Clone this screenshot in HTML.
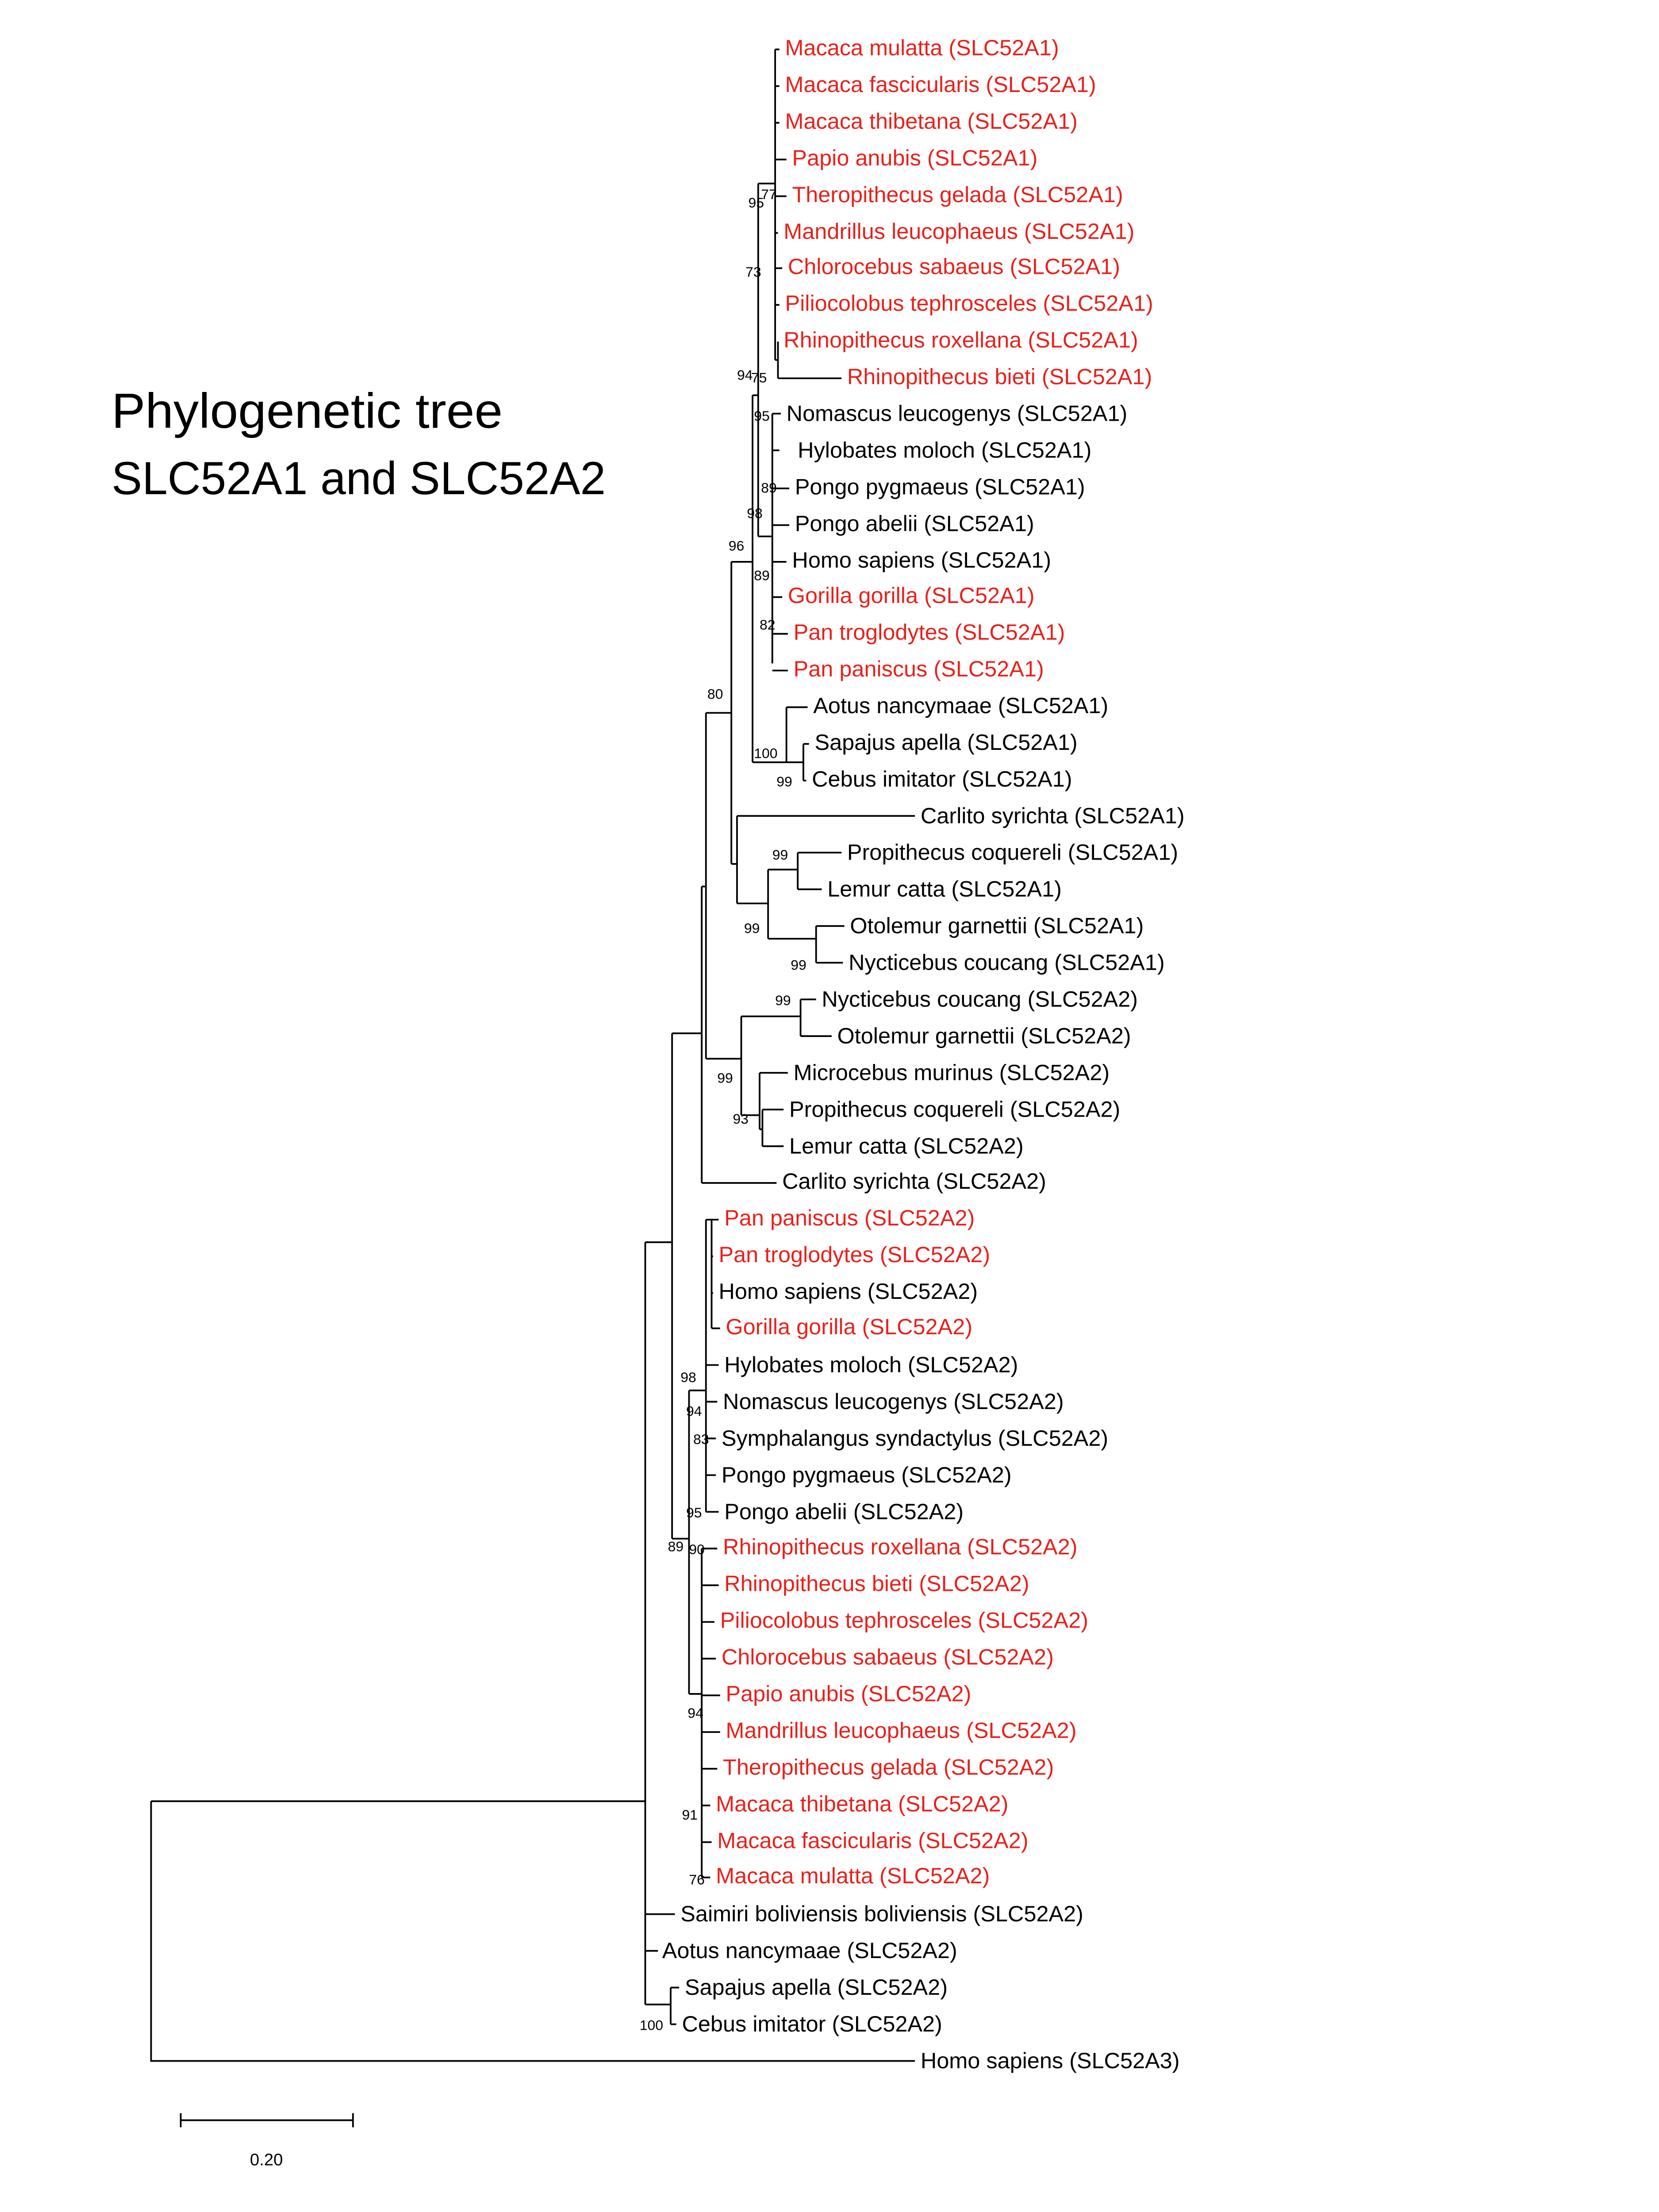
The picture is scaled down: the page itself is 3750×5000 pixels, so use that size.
<!DOCTYPE html>
<html><head><meta charset="utf-8"><style>html,body{margin:0;padding:0;background:#fff}svg{display:block}</style></head>
<body>
<svg width="3750" height="5000" viewBox="0 0 1175 1567" preserveAspectRatio="none" xmlns="http://www.w3.org/2000/svg">
<rect width="1175" height="1567" fill="#fff"/>
<g font-family="Liberation Sans, sans-serif">
<text x="79" y="303" font-size="35" fill="#000" textLength="277" lengthAdjust="spacingAndGlyphs">Phylogenetic tree</text>
<text x="79" y="350" font-size="33" fill="#000" textLength="350" lengthAdjust="spacingAndGlyphs">SLC52A1 and SLC52A2</text>
</g>
<g stroke="#000" stroke-width="1.2" fill="none">
<path d="M107 1276V1460H648M107 1276H457"/>
<path d="M457 880V1420M457 880H476M457 1382H466M457 1420H475M475 1408V1434M475 1408H481M475 1434H479M457 1356H478"/>
<path d="M476 732V1090M476 732H497"/>
<path d="M497 628V838M497 838H550M497 628H500M500 505V750M500 505H518M500 750H525"/>
<path d="M525 720V790M525 720H567M567 708V734M567 708H578M567 734H589M525 790H538M538 760V800M538 760H558M538 800H540M540 786V812M540 786H555M540 812H555"/>
<path d="M518 398V612M518 398H533M518 612H522M522 578V640M522 578H648M522 640H544M544 616V665M544 616H565M565 604V630M565 604H596M565 630H582M544 665H578M578 656V682M578 656H598M578 682H597"/>
<path d="M533 280V540M533 540H557M557 501V540M557 501H572M557 540H569M569 527V553M569 527H573M569 553H571M533 280H537M537 130V380M537 130H549M537 380H547"/>
<path d="M549 35V255M549 35H552M549 61H552M549 87H552M549 113H557M549 139H557M549 165H551M549 190H554M549 216H552M549 255H551M551 242V268M551 268H596"/>
<path d="M547 293V470M547 293H553M547 319H552M547 346H559M547 372H559M547 398H557M547 423H554M547 449H558M547 475H558"/>
<path d="M476 1090H488M488 985V1200M488 985H500M488 1200H497"/>
<path d="M500 864V1071M500 864H504M504 864V941M504 864H509M504 890H505M504 916H505M504 941H510M500 967H509M500 993H508M500 1019H507M500 1045H507M500 1071H509"/>
<path d="M497 1097V1330M497 1097H508M497 1123H509M497 1149H506M497 1175H507M497 1201H510M497 1227H510M497 1253H508M497 1279H503M497 1305H504M497 1330H503"/>
<path d="M128 1502H250M128 1497V1507M250 1497V1507"/>
</g>
<g font-family="Liberation Sans, sans-serif" font-size="15.8" dominant-baseline="middle">
<g fill="#e8211b">
<text x="556" y="35">Macaca mulatta (SLC52A1)</text>
<text x="556" y="61">Macaca fascicularis (SLC52A1)</text>
<text x="556" y="87">Macaca thibetana (SLC52A1)</text>
<text x="561" y="113">Papio anubis (SLC52A1)</text>
<text x="561" y="139">Theropithecus gelada (SLC52A1)</text>
<text x="555" y="165">Mandrillus leucophaeus (SLC52A1)</text>
<text x="558" y="190">Chlorocebus sabaeus (SLC52A1)</text>
<text x="556" y="216">Piliocolobus tephrosceles (SLC52A1)</text>
<text x="555" y="242">Rhinopithecus roxellana (SLC52A1)</text>
<text x="600" y="268">Rhinopithecus bieti (SLC52A1)</text>
<text x="558" y="423">Gorilla gorilla (SLC52A1)</text>
<text x="562" y="449">Pan troglodytes (SLC52A1)</text>
<text x="562" y="475">Pan paniscus (SLC52A1)</text>
<text x="513" y="864">Pan paniscus (SLC52A2)</text>
<text x="509" y="890">Pan troglodytes (SLC52A2)</text>
<text x="514" y="941">Gorilla gorilla (SLC52A2)</text>
<text x="512" y="1097">Rhinopithecus roxellana (SLC52A2)</text>
<text x="513" y="1123">Rhinopithecus bieti (SLC52A2)</text>
<text x="510" y="1149">Piliocolobus tephrosceles (SLC52A2)</text>
<text x="511" y="1175">Chlorocebus sabaeus (SLC52A2)</text>
<text x="514" y="1201">Papio anubis (SLC52A2)</text>
<text x="514" y="1227">Mandrillus leucophaeus (SLC52A2)</text>
<text x="512" y="1253">Theropithecus gelada (SLC52A2)</text>
<text x="507" y="1279">Macaca thibetana (SLC52A2)</text>
<text x="508" y="1305">Macaca fascicularis (SLC52A2)</text>
<text x="507" y="1330">Macaca mulatta (SLC52A2)</text>
</g>
<g fill="#000">
<text x="557" y="294">Nomascus leucogenys (SLC52A1)</text>
<text x="565" y="320">Hylobates moloch (SLC52A1)</text>
<text x="563" y="346">Pongo pygmaeus (SLC52A1)</text>
<text x="563" y="372">Pongo abelii (SLC52A1)</text>
<text x="561" y="398">Homo sapiens (SLC52A1)</text>
<text x="576" y="501">Aotus nancymaae (SLC52A1)</text>
<text x="577" y="527">Sapajus apella (SLC52A1)</text>
<text x="575" y="553">Cebus imitator (SLC52A1)</text>
<text x="652" y="579">Carlito syrichta (SLC52A1)</text>
<text x="600" y="605">Propithecus coquereli (SLC52A1)</text>
<text x="586" y="631">Lemur catta (SLC52A1)</text>
<text x="602" y="657">Otolemur garnettii (SLC52A1)</text>
<text x="601" y="683">Nycticebus coucang (SLC52A1)</text>
<text x="582" y="709">Nycticebus coucang (SLC52A2)</text>
<text x="593" y="735">Otolemur garnettii (SLC52A2)</text>
<text x="562" y="761">Microcebus murinus (SLC52A2)</text>
<text x="559" y="787">Propithecus coquereli (SLC52A2)</text>
<text x="559" y="813">Lemur catta (SLC52A2)</text>
<text x="554" y="838">Carlito syrichta (SLC52A2)</text>
<text x="509" y="916">Homo sapiens (SLC52A2)</text>
<text x="513" y="968">Hylobates moloch (SLC52A2)</text>
<text x="512" y="994">Nomascus leucogenys (SLC52A2)</text>
<text x="511" y="1020">Symphalangus syndactylus (SLC52A2)</text>
<text x="511" y="1046">Pongo pygmaeus (SLC52A2)</text>
<text x="513" y="1072">Pongo abelii (SLC52A2)</text>
<text x="482" y="1357">Saimiri boliviensis boliviensis (SLC52A2)</text>
<text x="469" y="1383">Aotus nancymaae (SLC52A2)</text>
<text x="485" y="1409">Sapajus apella (SLC52A2)</text>
<text x="483" y="1435">Cebus imitator (SLC52A2)</text>
<text x="652" y="1461">Homo sapiens (SLC52A3)</text>
</g>
</g>
<g font-family="Liberation Sans, sans-serif" font-size="10" fill="#000">
<text x="530" y="147">95</text><text x="539" y="141">77</text>
<text x="528" y="196">73</text>
<text x="522" y="269">94</text><text x="532" y="271">75</text>
<text x="534" y="298">95</text>
<text x="539" y="349">89</text>
<text x="529" y="367">98</text>
<text x="516" y="390">96</text>
<text x="534" y="411">89</text>
<text x="538" y="446">82</text>
<text x="501" y="495">80</text>
<text x="534" y="537">100</text>
<text x="550" y="557">99</text>
<text x="547" y="609">99</text>
<text x="527" y="661">99</text>
<text x="560" y="687">99</text>
<text x="549" y="712">99</text>
<text x="508" y="767">99</text>
<text x="519" y="796">93</text>
<text x="482" y="979">98</text>
<text x="486" y="1003">94</text>
<text x="491" y="1023">83</text>
<text x="486" y="1075">95</text>
<text x="473" y="1099">89</text><text x="488" y="1101">90</text>
<text x="487" y="1217">94</text>
<text x="483" y="1289">91</text>
<text x="488" y="1335">76</text>
<text x="453" y="1438">100</text>
<text x="177" y="1534" font-size="12">0.20</text>
</g>
</svg>
</body></html>
